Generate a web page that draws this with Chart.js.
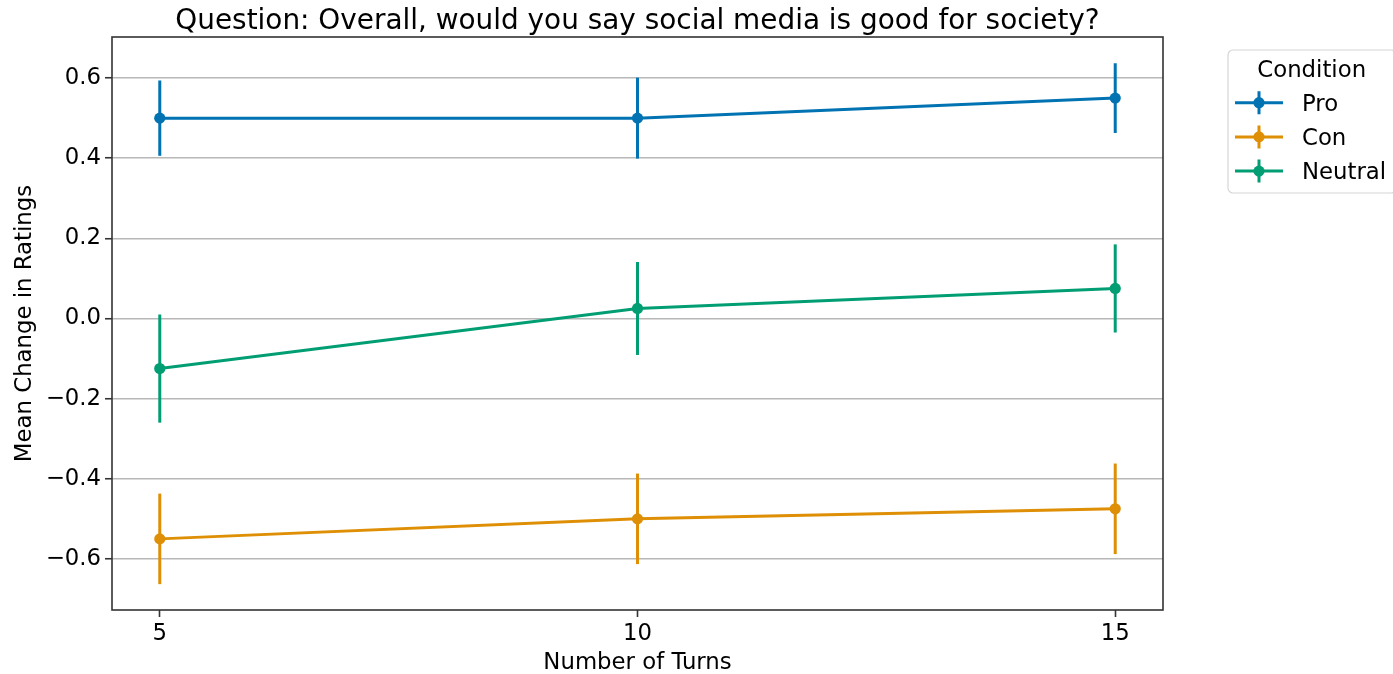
<!DOCTYPE html>
<html>
<head>
<meta charset="utf-8">
<title>Social media rating change</title>
<script src="https://cdn.jsdelivr.net/npm/chart.js@4/dist/chart.umd.min.js"></script>
<style>
  html, body { margin: 0; padding: 0; background: #fff; }
  canvas { display: block; }
</style>
</head>
<body>
<canvas id="chart" width="1393" height="674"></canvas>
<script>
// Number of conversation turns
const turns = [5, 10, 15];

// Mean change in rating per condition, with error bar half-widths
const proMean = [0.50, 0.50, 0.55];
const proErr = [0.094, 0.101, 0.087];
const conMean = [-0.55, -0.50, -0.475];
const conErr = [0.113, 0.113, 0.113];
const neutralMean = [-0.125, 0.025, 0.075];
const neutralErr = [0.135, 0.116, 0.110];

// Axis ticks
const xTicks = [5, 10, 15];
const yTicks = [-0.6, -0.4, -0.2, 0.0, 0.2, 0.4, 0.6];

const conditionNames = ['Pro', 'Con', 'Neutral'];
const conditionColors = ['#0173b2', '#de8f05', '#029e73'];

const FONT = 'DejaVu Sans';
const FS = 22.8;
const INK = '#333333';

Chart.defaults.font.family = FONT;
Chart.defaults.color = '#000';

function toPoints(xs, ys) {
  return xs.map((x, i) => ({ x: x, y: ys[i] }));
}

const means = [proMean, conMean, neutralMean];
const errs = [proErr, conErr, neutralErr];

const datasets = conditionNames.map((name, k) => ({
  label: name,
  data: toPoints(turns, means[k]),
  errors: errs[k],
  borderColor: conditionColors[k],
  backgroundColor: conditionColors[k],
  borderWidth: 3,
  pointRadius: 5.6,
  pointHoverRadius: 5.6,
  pointBorderWidth: 0,
  pointBackgroundColor: conditionColors[k],
  tension: 0,
  fill: false
}));

function fmtTick(v) {
  const s = Math.abs(v).toFixed(1);
  return (v < -1e-9 ? '\u2212' : '') + s;
}

// Vertical error bars, drawn through the chart's own scales
const errorBars = {
  id: 'errorBars',
  beforeDatasetsDraw(chart) {
    const { ctx, scales: { x, y } } = chart;
    ctx.save();
    chart.data.datasets.forEach((ds) => {
      ctx.strokeStyle = ds.borderColor;
      ctx.lineWidth = 3;
      ds.data.forEach((p, i) => {
        const e = ds.errors[i];
        const px = x.getPixelForValue(p.x);
        ctx.beginPath();
        ctx.moveTo(px, y.getPixelForValue(p.y + e));
        ctx.lineTo(px, y.getPixelForValue(p.y - e));
        ctx.stroke();
      });
    });
    ctx.restore();
  }
};

// Axes frame, title and boxed legend
const decorations = {
  id: 'decorations',
  afterDraw(chart) {
    const { ctx, chartArea: a } = chart;
    ctx.save();
    // frame
    ctx.strokeStyle = INK;
    ctx.lineWidth = 1.6;
    ctx.strokeRect(a.left, a.top, a.right - a.left, a.bottom - a.top);

    // title
    ctx.fillStyle = '#000';
    ctx.font = '27.9px "' + FONT + '"';
    ctx.textAlign = 'center';
    ctx.textBaseline = 'alphabetic';
    ctx.fillText('Question: Overall, would you say social media is good for society?', (a.left + a.right) / 2, 28.5);

    // legend box
    const bx = 1228, by = 50, bw = 168, bh = 143, r = 5;
    ctx.beginPath();
    ctx.moveTo(bx + r, by);
    ctx.lineTo(bx + bw - r, by);
    ctx.arcTo(bx + bw, by, bx + bw, by + r, r);
    ctx.lineTo(bx + bw, by + bh - r);
    ctx.arcTo(bx + bw, by + bh, bx + bw - r, by + bh, r);
    ctx.lineTo(bx + r, by + bh);
    ctx.arcTo(bx, by + bh, bx, by + bh - r, r);
    ctx.lineTo(bx, by + r);
    ctx.arcTo(bx, by, bx + r, by, r);
    ctx.closePath();
    ctx.fillStyle = 'rgba(255,255,255,0.8)';
    ctx.fill();
    ctx.strokeStyle = '#d6d6d6';
    ctx.lineWidth = 1.2;
    ctx.stroke();

    ctx.fillStyle = '#000';
    ctx.font = FS + 'px "' + FONT + '"';
    ctx.textAlign = 'center';
    ctx.fillText('Condition', 1311.7, 77);

    ctx.textAlign = 'left';
    chart.data.datasets.forEach((ds, k) => {
      const base = 110.7 + k * 34.2;
      const cy = base - 8;
      ctx.strokeStyle = ds.borderColor;
      ctx.lineWidth = 3;
      ctx.beginPath();
      ctx.moveTo(1235, cy);
      ctx.lineTo(1283, cy);
      ctx.moveTo(1259, cy - 11.5);
      ctx.lineTo(1259, cy + 11.5);
      ctx.stroke();
      ctx.fillStyle = ds.borderColor;
      ctx.beginPath();
      ctx.arc(1259, cy, 5.6, 0, Math.PI * 2);
      ctx.fill();
      ctx.fillStyle = '#000';
      ctx.fillText(ds.label, 1302, base);
    });
    ctx.restore();
  }
};

new Chart(document.getElementById('chart'), {
  type: 'line',
  data: { datasets: datasets },
  plugins: [errorBars, decorations],
  options: {
    responsive: false,
    animation: false,
    events: [],
    layout: { padding: { top: 37, right: 230, left: 0, bottom: 0 } },
    plugins: {
      legend: { display: false },
      title: { display: false },
      tooltip: { enabled: false }
    },
    scales: {
      x: {
        type: 'linear',
        min: 4.5,
        max: 15.5,
        afterBuildTicks(scale) { scale.ticks = xTicks.map(v => ({ value: v })); },
        afterFit(scale) { scale.height = 64; },
        border: { display: false },
        grid: {
          drawOnChartArea: false,
          drawTicks: true,
          tickLength: 7,
          tickWidth: 1.6,
          tickColor: INK
        },
        ticks: {
          padding: 3,
          color: '#000',
          font: { size: FS },
          callback: (v) => String(v)
        },
        title: {
          display: true,
          text: 'Number of Turns',
          color: '#000',
          font: { size: FS, lineHeight: 1.0 },
          padding: { top: 0, bottom: 0 }
        }
      },
      y: {
        type: 'linear',
        min: -0.7275,
        max: 0.7025,
        afterBuildTicks(scale) { scale.ticks = yTicks.map(v => ({ value: v })); },
        afterFit(scale) { scale.width = 112; },
        border: { display: false },
        grid: {
          color: '#b8b8b8',
          lineWidth: 1.5,
          drawTicks: true,
          tickLength: 7,
          tickWidth: 1.6,
          tickColor: INK
        },
        ticks: {
          padding: 4,
          color: '#000',
          font: { size: FS },
          callback: (v) => fmtTick(v)
        },
        title: {
          display: true,
          text: 'Mean Change in Ratings',
          color: '#000',
          font: { size: FS },
          padding: { top: 11, bottom: 0 }
        }
      }
    }
  }
});
</script>
</body>
</html>
